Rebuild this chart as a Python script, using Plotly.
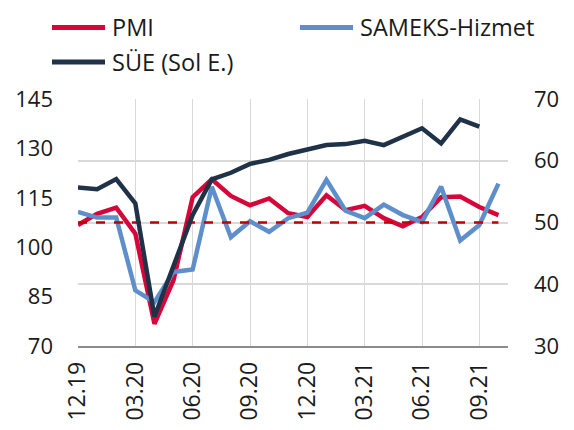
import plotly.graph_objects as go

months = ['12.19', '01.20', '02.20', '03.20', '04.20', '05.20', '06.20', '07.20',
          '08.20', '09.20', '10.20', '11.20', '12.20', '01.21', '02.21', '03.21',
          '04.21', '05.21', '06.21', '07.21', '08.21', '09.21', '10.21']
tick_labels = months[::3]

# right axis
pmi = [49.6, 51.4, 52.4, 48.2, 33.6, 40.7, 54.1, 57.0, 54.3, 52.8, 53.9, 51.5,
       50.9, 54.4, 52.0, 52.7, 50.7, 49.4, 50.9, 54.1, 54.2, 52.5, 51.2]
sameks = [51.7, 50.8, 50.8, 39.0, 37.1, 42.0, 42.4, 55.8, 47.6, 50.2, 48.5, 50.7,
          51.6, 56.9, 51.9, 50.7, 52.9, 51.2, 50.1, 55.8, 47.1, 49.6, 56.3]
threshold = 50
# left axis
sue = [118.1, 117.6, 120.7, 113.3, 78.9, 94.3, 109.8, 120.6, 122.6, 125.3, 126.5,
       128.3, 129.6, 131.0, 131.3, 132.3, 131.0, 133.6, 136.1, 131.5, 138.8, 136.6]

RED = '#d6063a'
BLUE = '#5f8fcb'
DARK = '#1f3248'
FONT = dict(family='Open Sans', size=22, color='#1a1a1a')

fig = go.Figure()

fig.add_trace(go.Scatter(x=months, y=pmi, mode='lines', name='PMI',
                         line=dict(color=RED, width=4.5), yaxis='y'))
fig.add_trace(go.Scatter(x=months, y=sameks, mode='lines', name='SAMEKS-Hizmet',
                         line=dict(color=BLUE, width=4.5), yaxis='y'))
fig.add_trace(go.Scatter(x=months, y=[threshold] * len(months), mode='lines',
                         hoverinfo='skip',
                         line=dict(color='#c00000', width=2.5, dash='dash'), yaxis='y'))
fig.add_trace(go.Scatter(x=months[:len(sue)], y=sue, mode='lines', name='SÜE (Sol E.)',
                         line=dict(color=DARK, width=4.5), yaxis='y2'))

# hand-drawn legend (longer swatches than plotly's own)
legend_items = [('PMI', RED, -0.0605, 1.2895),
                ('SAMEKS-Hizmet', BLUE, 0.5163, 1.2895),
                ('SÜE (Sol E.)', DARK, -0.0605, 1.1498)]
for label, color, lx, ly in legend_items:
    fig.add_shape(type='line', xref='paper', yref='paper',
                  x0=lx, x1=lx + 0.1233, y0=ly, y1=ly,
                  line=dict(color=color, width=5))
    fig.add_annotation(text=label, xref='paper', yref='paper', x=lx + 0.135, y=ly,
                       xanchor='left', yanchor='middle', showarrow=False,
                       font=dict(size=23.5))

# page body has an 8px margin, so the figure is offset by 8px
fig.update_layout(
    width=558, height=422,
    margin=dict(l=70, r=58, t=91, b=84, autoexpand=False),
    paper_bgcolor='white', plot_bgcolor='white',
    font=FONT,
    showlegend=False,
    xaxis=dict(type='category', range=[0, 22.5], tickmode='array',
               tickvals=tick_labels, ticktext=tick_labels, tickangle=-90,
               tickfont=dict(size=23),
               showgrid=True, gridcolor='#d9d9d9', gridwidth=1,
               showline=True, linecolor='#8c8c8c', linewidth=1.5,
               ticks='', ticklabelstandoff=5, zeroline=False, automargin=False),
    yaxis=dict(side='right', range=[30, 70], dtick=10, showgrid=True,
               gridcolor='#d9d9d9', gridwidth=1.5, zeroline=False,
               ticks='', ticklabelstandoff=25, automargin=False),
    yaxis2=dict(side='left', overlaying='y', range=[70, 145], tickvals=[70, 85, 100, 115, 130, 145],
                showgrid=False, zeroline=False, ticks='', ticklabelstandoff=24,
                automargin=False),
)

fig.write_html('out.html')
